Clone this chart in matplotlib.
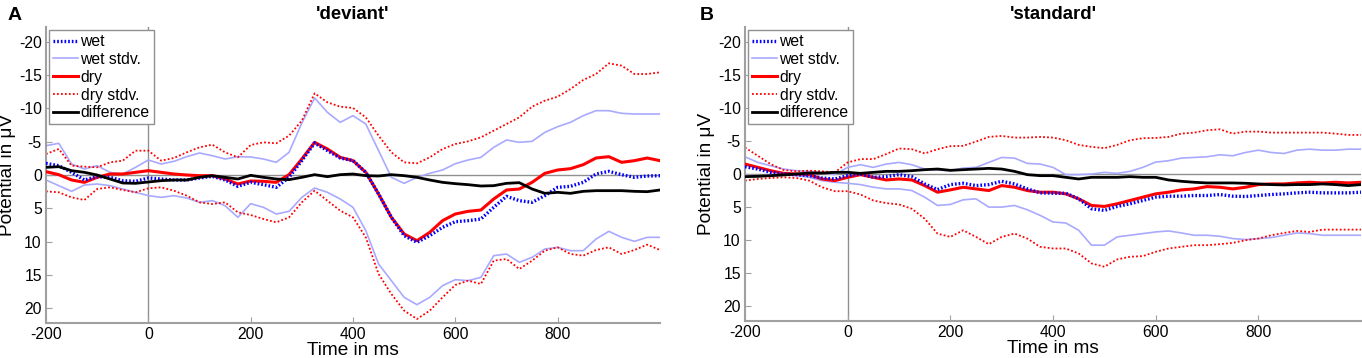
import matplotlib
matplotlib.use("Agg")
import matplotlib.pyplot as plt

plt.rcParams['font.family'] = ['Liberation Sans', 'DejaVu Sans']
plt.rcParams['axes.unicode_minus'] = False

# time axis in ms
t = [-200, -175, -150, -125, -100, -75, -50, -25, 0, 25, 50, 75, 100, 125, 150, 175,
     200, 225, 250, 275, 300, 325, 350, 375, 400, 425, 450, 475, 500, 525, 550, 575,
     600, 625, 650, 675, 700, 725, 750, 775, 800, 825, 850, 875, 900, 925, 950, 975, 1000]

# panel A: 'deviant'
dev_wet = [-1.75, -1.4, -0.4, 0.75, 0.25, 0.35, 0.85, 0.95, 0.45, 0.6, 0.75, 0.75, 0.45, 0.2, 0.75, 1.7,
           1.1, 1.45, 1.85, 0.35, -2.15, -4.8, -3.65, -2.55, -2.15, -0.4, 2.85, 6.35, 9.1, 10.1, 9.1, 7.85,
           7.0, 6.85, 6.6, 4.85, 3.2, 3.85, 4.1, 3.1, 1.85, 1.7, 1.1, -0.15, -0.55, -0.05, 0.35, 0.15, 0.1]
dev_wet_sd_hi = [-4.4, -4.75, -1.65, -0.9, -1.4, -0.4, -0.15, -1.15, -2.25, -1.65, -2.05, -2.75, -3.3, -2.9, -2.4, -2.75,
                 -2.7, -2.4, -1.9, -3.4, -7.8, -11.55, -9.4, -7.9, -8.9, -7.65, -3.65, 0.35, 1.25, 0.35, -0.25, -0.75,
                 -1.7, -2.25, -2.65, -4.15, -5.25, -4.9, -5.05, -6.4, -7.25, -7.9, -8.9, -9.65, -9.65, -9.25, -9.15, -9.15, -9.15]
dev_wet_sd_lo = [0.75, 1.6, 2.45, 1.5, 1.35, 1.6, 2.1, 2.6, 3.1, 3.35, 3.1, 3.45, 4.1, 3.85, 4.6, 6.35,
                 4.3, 4.85, 5.85, 5.45, 3.35, 1.95, 2.6, 3.6, 4.85, 8.35, 13.35, 15.85, 18.35, 19.45, 18.35, 16.6,
                 15.7, 15.85, 15.35, 12.1, 11.85, 13.1, 12.35, 11.1, 10.85, 11.35, 11.35, 9.6, 8.45, 9.35, 9.95, 9.35, 9.35]
dev_dry = [-0.5, -0.05, 0.75, 1.1, 0.35, -0.15, -0.15, -0.4, -0.65, -0.4, -0.15, 0.0, 0.1, 0.1, 0.6, 1.35,
           0.9, 0.95, 1.1, -0.05, -2.4, -4.9, -3.9, -2.65, -2.15, -0.4, 2.85, 6.35, 8.85, 9.85, 8.6, 6.85,
           5.85, 5.45, 5.25, 3.6, 2.25, 2.1, 1.1, -0.25, -0.75, -0.95, -1.55, -2.55, -2.75, -1.9, -2.15, -2.55, -2.15]
dev_dry_sd_hi = [-3.15, -3.9, -1.4, -1.25, -1.15, -1.9, -2.15, -3.65, -3.65, -2.15, -2.55, -3.4, -4.15, -4.55, -3.4, -2.65,
                 -4.5, -4.9, -4.75, -5.9, -8.15, -12.25, -10.9, -10.25, -10.05, -8.65, -5.9, -3.4, -1.9, -1.75, -2.65, -3.9,
                 -4.65, -5.05, -5.65, -6.65, -7.65, -8.65, -10.25, -11.15, -11.75, -12.9, -14.25, -15.15, -16.75, -16.4, -15.15, -15.15, -15.4]
dev_dry_sd_lo = [2.45, 2.6, 3.35, 3.75, 2.1, 1.85, 2.25, 2.6, 2.0, 1.85, 2.35, 3.1, 4.1, 4.35, 4.1, 5.6,
                 6.0, 6.6, 7.1, 6.35, 4.1, 2.35, 3.85, 5.35, 6.35, 9.35, 14.85, 17.85, 20.35, 21.6, 20.35, 18.35,
                 16.5, 15.85, 16.35, 12.85, 12.6, 14.1, 12.85, 11.35, 10.85, 11.85, 12.1, 11.25, 10.85, 11.85, 11.25, 10.45, 11.25]
dev_diff = [-1.15, -1.25, -0.65, -0.4, 0.0, 0.6, 1.2, 1.25, 1.05, 0.85, 0.75, 0.75, 0.35, 0.1, 0.35, 0.6,
            0.05, 0.35, 0.6, 0.7, 0.35, -0.05, 0.25, -0.05, -0.15, 0.1, 0.15, -0.05, 0.1, 0.35, 0.75, 1.1,
            1.3, 1.45, 1.65, 1.6, 1.25, 1.15, 2.1, 2.75, 2.6, 2.75, 2.45, 2.35, 2.35, 2.35, 2.45, 2.5, 2.25]

# panel B: 'standard'
std_wet = [-1.1, -0.75, -0.25, 0.0, 0.1, 0.25, 0.6, 0.75, 0.25, 0.0, 0.5, 0.4, 0.1, 0.4, 1.5, 2.35,
           1.6, 1.4, 1.75, 1.6, 1.1, 1.5, 2.25, 2.85, 2.9, 2.9, 3.75, 5.25, 5.5, 4.9, 4.5, 4.0,
           3.5, 3.35, 3.35, 3.25, 3.25, 3.1, 3.35, 3.4, 3.25, 3.1, 3.0, 2.85, 2.75, 2.85, 2.85, 2.85, 2.75]
std_wet_sd_hi = [-2.6, -1.75, -1.25, -0.75, -0.5, -0.4, -0.25, 0.1, -1.0, -1.4, -1.0, -1.5, -1.75, -1.4, -0.75, -0.6,
                 -0.5, -0.9, -1.0, -1.75, -2.5, -2.4, -1.6, -1.5, -1.0, 0.1, 0.1, 0.0, -0.25, -0.1, -0.4, -1.0,
                 -1.8, -2.0, -2.4, -2.5, -2.6, -2.9, -2.75, -3.25, -3.6, -3.25, -3.1, -3.6, -3.75, -3.6, -3.6, -3.75, -3.75]
std_wet_sd_lo = [0.25, 0.4, 0.1, 0.1, 0.25, 0.5, 1.0, 1.25, 1.4, 1.6, 2.0, 2.25, 2.25, 2.5, 3.5, 4.75,
                 4.6, 3.9, 3.75, 5.0, 5.0, 4.75, 5.4, 6.25, 7.25, 7.4, 8.5, 10.75, 10.75, 9.5, 9.25, 9.0,
                 8.75, 8.6, 8.9, 9.25, 9.25, 9.4, 9.75, 9.9, 9.75, 9.6, 9.25, 8.9, 9.0, 9.25, 9.25, 9.25, 9.25]
std_dry = [-1.5, -1.0, -0.5, -0.1, 0.0, 0.1, 0.75, 1.0, 0.5, 0.1, 0.5, 0.9, 0.75, 0.9, 1.75, 2.75,
           2.4, 2.0, 2.25, 2.5, 1.75, 2.0, 2.5, 2.75, 2.75, 3.0, 3.75, 4.75, 4.9, 4.5, 4.0, 3.5,
           3.0, 2.75, 2.4, 2.25, 1.9, 2.0, 2.25, 2.0, 1.6, 1.5, 1.5, 1.35, 1.25, 1.35, 1.25, 1.35, 1.25]
std_dry_sd_hi = [-4.0, -2.75, -1.5, -0.6, -0.4, -0.5, -0.4, -0.25, -1.75, -2.25, -2.25, -3.0, -3.85, -3.75, -3.1, -3.75,
                 -4.2, -4.25, -4.9, -5.6, -5.75, -5.5, -5.5, -5.6, -5.5, -5.1, -4.4, -4.1, -3.9, -4.4, -5.1, -5.4,
                 -5.45, -5.6, -6.1, -6.25, -6.6, -6.75, -6.1, -6.4, -6.4, -6.25, -6.25, -6.25, -6.25, -6.25, -6.1, -5.9, -5.9]
std_dry_sd_lo = [1.0, 0.75, 0.6, 0.5, 0.6, 1.0, 2.0, 2.6, 2.6, 3.1, 4.0, 4.4, 4.6, 5.25, 6.75, 9.0,
                 9.5, 8.5, 9.5, 10.6, 9.5, 9.0, 9.75, 11.0, 11.25, 11.25, 12.0, 13.5, 14.0, 12.9, 12.5, 12.4,
                 11.75, 11.25, 11.0, 10.75, 10.75, 10.6, 10.4, 10.0, 9.75, 9.25, 8.9, 8.6, 8.75, 8.4, 8.4, 8.4, 8.4]
std_diff = [0.4, 0.35, 0.25, 0.15, 0.0, -0.15, -0.15, -0.25, -0.25, -0.1, -0.25, -0.4, -0.4, -0.5, -0.65, -0.75,
            -0.55, -0.65, -0.75, -0.85, -0.75, -0.4, 0.1, 0.25, 0.25, 0.5, 0.75, 0.5, 0.5, 0.5, 0.4, 0.5,
            0.5, 0.9, 1.1, 1.25, 1.35, 1.35, 1.35, 1.4, 1.5, 1.6, 1.65, 1.6, 1.6, 1.5, 1.6, 1.75, 1.6]

yticks = [-20, -15, -10, -5, 0, 5, 10, 15, 20]
xticks = [-200, 0, 200, 400, 600, 800]

LIGHTBLUE = '#a9a9ff'
GRAY = '#a0a0a0'


def draw_panel(ax, wet, wet_hi, wet_lo, dry, dry_hi, dry_lo, diff, title):
    ax.axhline(0, color='#909090', lw=1, zorder=1)
    ax.axvline(0, color='#909090', lw=1, zorder=1)

    ax.plot(t, wet, color='blue', lw=2.4, ls=(0, (0.5, 0.6)), label='wet', zorder=4)
    ax.plot(t, wet_hi, color=LIGHTBLUE, lw=1.2, label='wet stdv.', zorder=2)
    ax.plot(t, dry, color='red', lw=2.2, label='dry', zorder=3)
    ax.plot(t, dry_hi, color='red', lw=1.3, ls=(0, (1, 1.2)), label='dry stdv.', zorder=2)
    ax.plot(t, diff, color='black', lw=2.0, label='difference', zorder=5)
    ax.plot(t, wet_lo, color=LIGHTBLUE, lw=1.2, zorder=2)
    ax.plot(t, dry_lo, color='red', lw=1.3, ls=(0, (1, 1.2)), zorder=2)

    ax.set_xlim(-200, 1000)
    ax.set_ylim(22.2, -22.2)
    ax.set_xticks(xticks)
    ax.set_yticks(yticks)
    ax.tick_params(direction='in', labelsize=11.3, color=GRAY, length=4, pad=3)
    for s in ['top', 'right']:
        ax.spines[s].set_visible(False)
    for s in ['left', 'bottom']:
        ax.spines[s].set_color(GRAY)
        ax.spines[s].set_linewidth(1.5)

    ax.set_xlabel('Time in ms', fontsize=13.7, labelpad=0)
    ax.set_ylabel('Potential in \u03bcV', fontsize=13.7)
    ax.yaxis.set_label_coords(-0.049, 0.5)
    ax.set_title(title, fontsize=13.3, fontweight='bold', pad=6)

    leg = ax.legend(loc='upper left', fontsize=11.3, frameon=True, fancybox=False,
                    borderaxespad=0.2, handlelength=1.6, handletextpad=0.15,
                    labelspacing=0.18, borderpad=0.25)
    leg.get_frame().set_edgecolor('#909090')
    leg.get_frame().set_linewidth(1.0)
    leg.get_frame().set_alpha(1.0)


fig = plt.figure(figsize=(13.62, 3.58), dpi=100)
axA = fig.add_axes([46 / 1362, 35 / 358, 614 / 1362, 296 / 358])
axB = fig.add_axes([745 / 1362, 37 / 358, 616 / 1362, 294 / 358])

draw_panel(axA, dev_wet, dev_wet_sd_hi, dev_wet_sd_lo, dev_dry, dev_dry_sd_hi, dev_dry_sd_lo,
           dev_diff, "'deviant'")
draw_panel(axB, std_wet, std_wet_sd_hi, std_wet_sd_lo, std_dry, std_dry_sd_hi, std_dry_sd_lo,
           std_diff, "'standard'")

fig.text(15 / 1362, 1 - 16 / 358, 'A', fontsize=14, fontweight='bold', ha='center', va='center')
fig.text(707 / 1362, 1 - 16 / 358, 'B', fontsize=14, fontweight='bold', ha='center', va='center')

fig.savefig('out.png', dpi=100)
